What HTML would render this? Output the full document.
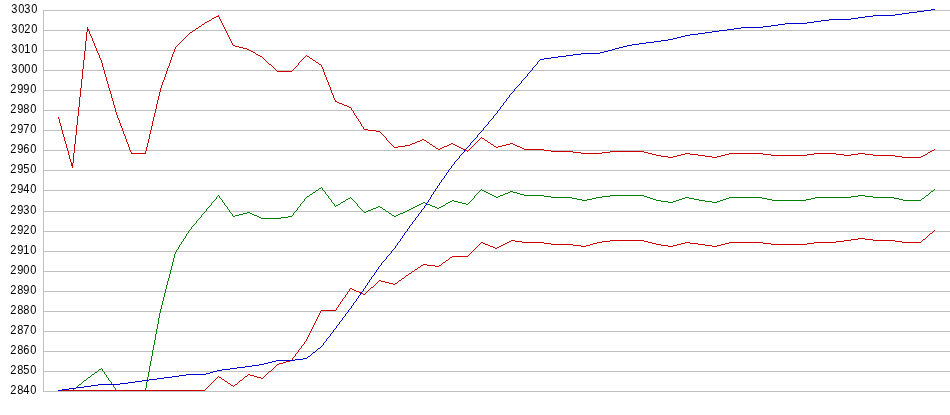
<!DOCTYPE html><html><head><meta charset="utf-8"><title>chart</title><style>html,body{margin:0;padding:0;background:#fff}svg{display:block}text{font-family:"Liberation Sans",Arial,sans-serif;font-size:12px;fill:#000}</style></head><body>
<svg width="950" height="415" viewBox="0 0 950 415">
<rect width="950" height="415" fill="#fff"/>
<g shape-rendering="crispEdges" fill="#c0c0c0">
<rect x="43" y="10" width="907" height="1"/>
<rect x="43" y="30" width="907" height="1"/>
<rect x="43" y="50" width="907" height="1"/>
<rect x="43" y="70" width="907" height="1"/>
<rect x="43" y="90" width="907" height="1"/>
<rect x="43" y="110" width="907" height="1"/>
<rect x="43" y="130" width="907" height="1"/>
<rect x="43" y="150" width="907" height="1"/>
<rect x="43" y="170" width="907" height="1"/>
<rect x="43" y="190" width="907" height="1"/>
<rect x="43" y="211" width="907" height="1"/>
<rect x="43" y="231" width="907" height="1"/>
<rect x="43" y="251" width="907" height="1"/>
<rect x="43" y="271" width="907" height="1"/>
<rect x="43" y="291" width="907" height="1"/>
<rect x="43" y="311" width="907" height="1"/>
<rect x="43" y="331" width="907" height="1"/>
<rect x="43" y="351" width="907" height="1"/>
<rect x="43" y="371" width="907" height="1"/>
<rect x="43" y="391" width="907" height="1"/>
<rect x="43" y="10" width="1" height="382"/>
</g>
<g>
<text transform="translate(11,13) scale(0.92,1)" x="0.29 7.90 14.42 22.03">3030</text>
<text transform="translate(11,33) scale(0.92,1)" x="0.29 7.90 14.42 22.03">3020</text>
<text transform="translate(11,53) scale(0.92,1)" x="0.29 7.90 14.42 22.03">3010</text>
<text transform="translate(11,73) scale(0.92,1)" x="0.29 7.90 14.42 22.03">3000</text>
<text transform="translate(10,93) scale(0.92,1)" x="0.29 7.90 14.42 22.03">2990</text>
<text transform="translate(10,113) scale(0.92,1)" x="0.29 7.90 14.42 22.03">2980</text>
<text transform="translate(10,133) scale(0.92,1)" x="0.29 7.90 14.42 22.03">2970</text>
<text transform="translate(10,153) scale(0.92,1)" x="0.29 7.90 14.42 22.03">2960</text>
<text transform="translate(10,173) scale(0.92,1)" x="0.29 7.90 14.42 22.03">2950</text>
<text transform="translate(10,193) scale(0.92,1)" x="0.29 7.90 14.42 22.03">2940</text>
<text transform="translate(10,214) scale(0.92,1)" x="0.29 7.90 14.42 22.03">2930</text>
<text transform="translate(10,234) scale(0.92,1)" x="0.29 7.90 14.42 22.03">2920</text>
<text transform="translate(10,254) scale(0.92,1)" x="0.29 7.90 14.42 22.03">2910</text>
<text transform="translate(10,274) scale(0.92,1)" x="0.29 7.90 14.42 22.03">2900</text>
<text transform="translate(10,294) scale(0.92,1)" x="0.29 7.90 14.42 22.03">2890</text>
<text transform="translate(10,314) scale(0.92,1)" x="0.29 7.90 14.42 22.03">2880</text>
<text transform="translate(10,334) scale(0.92,1)" x="0.29 7.90 14.42 22.03">2870</text>
<text transform="translate(10,354) scale(0.92,1)" x="0.29 7.90 14.42 22.03">2860</text>
<text transform="translate(10,374) scale(0.92,1)" x="0.29 7.90 14.42 22.03">2850</text>
<text transform="translate(10,394) scale(0.92,1)" x="0.29 7.90 14.42 22.03">2840</text>
</g>
<g shape-rendering="crispEdges" stroke="none">
<path fill="#cc0000" d="M58 117h1v2h-1zM59 119h1v4h-1zM60 123h1v3h-1zM61 126h1v4h-1zM62 130h1v4h-1zM63 134h1v3h-1zM64 137h1v4h-1zM65 141h1v3h-1zM66 144h1v4h-1zM67 148h1v3h-1zM68 151h1v4h-1zM69 155h1v4h-1zM70 159h1v3h-1zM71 162h1v1h-1zM71 163h2v1h-2zM71 164h2v1h-2zM71 165h2v1h-2zM72 166h1v2h-1zM73 153h1v10h-1zM74 144h1v9h-1zM75 135h1v9h-1zM76 125h1v10h-1zM77 116h1v9h-1zM78 107h1v9h-1zM79 97h1v10h-1zM80 88h1v9h-1zM81 79h1v9h-1zM82 69h1v10h-1zM83 60h1v9h-1zM84 51h1v9h-1zM85 41h1v10h-1zM86 32h1v9h-1zM87 27h1v2h-1zM87 29h2v1h-2zM87 30h2v1h-2zM87 31h1v1h-1zM89 31h1v3h-1zM90 34h1v2h-1zM91 36h1v2h-1zM92 38h1v3h-1zM93 41h1v2h-1zM94 43h1v3h-1zM95 46h1v2h-1zM96 48h1v3h-1zM97 51h1v2h-1zM98 53h1v2h-1zM99 55h1v3h-1zM100 58h1v2h-1zM101 60h1v3h-1zM102 63h1v4h-1zM103 67h1v3h-1zM104 70h1v4h-1zM105 74h1v3h-1zM106 77h1v4h-1zM107 81h1v3h-1zM108 84h1v4h-1zM109 88h1v3h-1zM110 91h1v3h-1zM111 94h1v4h-1zM112 98h1v3h-1zM113 101h1v4h-1zM114 105h1v3h-1zM115 108h1v4h-1zM116 112h1v3h-1zM117 115h1v3h-1zM118 118h1v2h-1zM119 120h1v3h-1zM120 123h1v3h-1zM121 126h1v2h-1zM122 128h1v3h-1zM123 131h1v3h-1zM124 134h1v2h-1zM125 136h1v3h-1zM126 139h1v3h-1zM127 142h1v2h-1zM128 144h1v3h-1zM129 147h1v3h-1zM130 150h1v2h-1zM131 152h1v1h-1zM131 153h15v1h-15zM145 151h1v2h-1zM146 147h1v4h-1zM147 143h1v4h-1zM148 139h1v4h-1zM149 134h1v5h-1zM150 130h1v4h-1zM151 126h1v4h-1zM152 121h1v5h-1zM153 117h1v4h-1zM154 113h1v4h-1zM155 109h1v4h-1zM156 104h1v5h-1zM157 100h1v4h-1zM158 96h1v4h-1zM159 92h1v4h-1zM160 88h1v4h-1zM161 85h1v3h-1zM162 82h1v3h-1zM163 80h1v2h-1zM164 77h1v3h-1zM165 74h1v3h-1zM166 71h1v3h-1zM167 68h1v3h-1zM168 66h1v2h-1zM169 63h1v3h-1zM170 60h1v3h-1zM171 57h1v3h-1zM172 54h1v3h-1zM173 52h1v2h-1zM174 49h1v3h-1zM175 47h1v2h-1zM176 46h1v1h-1zM177 45h1v1h-1zM178 44h1v1h-1zM179 43h1v1h-1zM180 42h1v1h-1zM181 41h1v1h-1zM182 40h1v1h-1zM183 39h1v1h-1zM184 38h1v1h-1zM185 37h1v1h-1zM186 36h1v1h-1zM187 35h1v1h-1zM188 34h1v1h-1zM189 33h1v1h-1zM190 32h2v1h-2zM192 31h1v1h-1zM193 30h2v1h-2zM195 29h1v1h-1zM196 28h2v1h-2zM198 27h1v1h-1zM199 26h2v1h-2zM201 25h1v1h-1zM202 24h2v1h-2zM204 23h1v1h-1zM205 22h2v1h-2zM207 21h2v1h-2zM209 20h2v1h-2zM211 19h1v1h-1zM212 18h2v1h-2zM214 17h2v1h-2zM216 16h3v1h-3zM218 15h1v1h-1zM219 17h1v2h-1zM220 19h1v2h-1zM221 21h1v2h-1zM222 23h1v2h-1zM223 25h1v2h-1zM224 27h1v2h-1zM225 29h1v2h-1zM226 31h1v2h-1zM227 33h1v2h-1zM228 35h1v2h-1zM229 37h1v2h-1zM230 39h1v2h-1zM231 41h1v2h-1zM232 43h1v2h-1zM233 45h2v1h-2zM235 46h4v1h-4zM239 47h4v1h-4zM243 48h4v1h-4zM247 49h2v1h-2zM249 50h2v1h-2zM251 51h2v1h-2zM253 52h2v1h-2zM255 53h1v1h-1zM256 54h2v1h-2zM258 55h2v1h-2zM260 56h2v1h-2zM262 57h1v1h-1zM263 58h1v1h-1zM264 59h1v1h-1zM265 60h1v1h-1zM266 61h1v1h-1zM267 62h1v1h-1zM268 63h1v1h-1zM269 64h2v1h-2zM271 65h1v1h-1zM272 66h1v1h-1zM273 67h1v1h-1zM274 68h1v1h-1zM275 69h1v1h-1zM276 70h1v1h-1zM277 71h15v1h-15zM292 70h1v1h-1zM293 69h1v1h-1zM294 68h1v1h-1zM295 67h1v1h-1zM296 66h1v1h-1zM297 65h1v1h-1zM298 63h1v2h-1zM299 62h1v1h-1zM300 61h1v1h-1zM301 60h1v1h-1zM302 59h1v1h-1zM303 58h1v1h-1zM304 57h1v1h-1zM305 56h1v1h-1zM306 55h1v1h-1zM307 56h2v1h-2zM309 57h1v1h-1zM310 58h2v1h-2zM312 59h1v1h-1zM313 60h2v1h-2zM315 61h1v1h-1zM316 62h2v1h-2zM318 63h1v1h-1zM319 64h2v1h-2zM321 65h1v2h-1zM322 67h1v2h-1zM323 69h1v3h-1zM324 72h1v3h-1zM325 75h1v2h-1zM326 77h1v3h-1zM327 80h1v2h-1zM328 82h1v3h-1zM329 85h1v2h-1zM330 87h1v3h-1zM331 90h1v3h-1zM332 93h1v2h-1zM333 95h1v3h-1zM334 98h1v2h-1zM335 100h1v1h-1zM335 101h2v1h-2zM337 102h2v1h-2zM339 103h3v1h-3zM342 104h2v1h-2zM344 105h3v1h-3zM347 106h2v1h-2zM349 107h2v1h-2zM351 108h1v2h-1zM352 110h1v1h-1zM353 111h1v2h-1zM354 113h1v2h-1zM355 115h1v1h-1zM356 116h1v2h-1zM357 118h1v1h-1zM358 119h1v2h-1zM359 121h1v1h-1zM360 122h1v2h-1zM361 124h1v2h-1zM362 126h1v1h-1zM363 127h1v2h-1zM364 129h4v1h-4zM368 130h8v1h-8zM376 131h4v1h-4zM380 132h1v1h-1zM381 133h1v1h-1zM382 134h1v1h-1zM383 135h1v1h-1zM384 136h1v1h-1zM385 137h1v1h-1zM386 138h1v2h-1zM387 140h1v1h-1zM388 141h1v1h-1zM389 142h1v1h-1zM390 143h1v1h-1zM391 144h1v1h-1zM392 145h1v1h-1zM393 146h1v1h-1zM394 147h4v1h-4zM398 146h7v1h-7zM405 145h5v1h-5zM410 144h2v1h-2zM412 143h3v1h-3zM415 142h2v1h-2zM417 141h3v1h-3zM420 140h2v1h-2zM422 139h2v1h-2zM424 140h2v1h-2zM426 141h1v1h-1zM427 142h2v1h-2zM429 143h1v1h-1zM430 144h2v1h-2zM432 145h1v1h-1zM433 146h2v1h-2zM435 147h1v1h-1zM436 148h2v1h-2zM438 149h2v1h-2zM440 148h2v1h-2zM442 147h2v1h-2zM444 146h3v1h-3zM447 145h2v1h-2zM449 144h2v1h-2zM451 143h2v1h-2zM453 144h2v1h-2zM455 145h2v1h-2zM457 146h2v1h-2zM459 147h2v1h-2zM461 148h2v1h-2zM463 149h2v1h-2zM465 150h2v1h-2zM467 151h1v1h-1zM468 150h1v1h-1zM469 149h1v1h-1zM470 148h1v1h-1zM471 147h1v1h-1zM472 146h1v1h-1zM473 145h1v1h-1zM474 144h1v1h-1zM475 143h1v1h-1zM476 142h1v1h-1zM477 141h1v1h-1zM478 140h1v1h-1zM479 139h1v1h-1zM480 138h1v1h-1zM481 137h1v1h-1zM482 138h2v1h-2zM484 139h1v1h-1zM485 140h2v1h-2zM487 141h1v1h-1zM488 142h2v1h-2zM490 143h1v1h-1zM491 144h2v1h-2zM493 145h1v1h-1zM494 146h2v1h-2zM496 147h2v1h-2zM498 146h4v1h-4zM502 145h4v1h-4zM506 144h4v1h-4zM510 143h3v1h-3zM513 144h2v1h-2zM515 145h2v1h-2zM517 146h3v1h-3zM520 147h2v1h-2zM522 148h2v1h-2zM524 149h20v1h-20zM544 150h7v1h-7zM551 151h22v1h-22zM573 152h8v1h-8zM581 153h21v1h-21zM602 152h8v1h-8zM610 151h34v1h-34zM644 152h4v1h-4zM648 153h4v1h-4zM652 154h4v1h-4zM656 155h5v1h-5zM661 156h7v1h-7zM668 157h5v1h-5zM673 156h4v1h-4zM677 155h4v1h-4zM681 154h4v1h-4zM685 153h5v1h-5zM690 154h8v1h-8zM698 155h7v1h-7zM705 156h7v1h-7zM712 157h5v1h-5zM717 156h4v1h-4zM721 155h4v1h-4zM725 154h4v1h-4zM729 153h34v1h-34zM763 154h8v1h-8zM771 155h36v1h-36zM807 154h7v1h-7zM814 153h22v1h-22zM836 154h8v1h-8zM844 155h7v1h-7zM851 154h7v1h-7zM858 153h7v1h-7zM865 154h8v1h-8zM873 155h22v1h-22zM895 156h7v1h-7zM902 157h19v1h-19zM921 156h2v1h-2zM923 155h2v1h-2zM925 154h2v1h-2zM927 153h1v1h-1zM928 152h2v1h-2zM930 151h2v1h-2zM932 150h2v1h-2zM934 149h1v1h-1z"/>
<path fill="#008000" d="M58 390h15v1h-15zM73 389h1v1h-1zM74 388h2v1h-2zM76 387h1v1h-1zM77 386h1v1h-1zM78 385h1v1h-1zM79 384h2v1h-2zM81 383h1v1h-1zM82 382h1v1h-1zM83 381h1v1h-1zM84 380h2v1h-2zM86 379h1v1h-1zM87 378h1v1h-1zM88 377h2v1h-2zM90 376h1v1h-1zM91 375h1v1h-1zM92 374h2v1h-2zM94 373h1v1h-1zM95 372h2v1h-2zM97 371h1v1h-1zM98 370h1v1h-1zM99 369h2v1h-2zM101 368h1v1h-1zM102 369h1v2h-1zM103 371h1v1h-1zM104 372h1v2h-1zM105 374h1v1h-1zM106 375h1v2h-1zM107 377h1v1h-1zM108 378h1v2h-1zM109 380h1v1h-1zM110 381h1v1h-1zM111 382h1v2h-1zM112 384h1v1h-1zM113 385h1v2h-1zM114 387h1v1h-1zM115 388h1v2h-1zM116 390h30v1h-30zM145 388h1v2h-1zM146 382h1v6h-1zM147 377h1v5h-1zM148 372h1v5h-1zM149 366h1v6h-1zM150 361h1v5h-1zM151 356h1v5h-1zM152 350h1v6h-1zM153 345h1v5h-1zM154 340h1v5h-1zM155 334h1v6h-1zM156 329h1v5h-1zM157 324h1v5h-1zM158 318h1v6h-1zM159 313h1v5h-1zM160 309h1v4h-1zM161 305h1v4h-1zM162 301h1v4h-1zM163 297h1v4h-1zM164 293h1v4h-1zM165 289h1v4h-1zM166 285h1v4h-1zM167 281h1v4h-1zM168 278h1v3h-1zM169 274h1v4h-1zM170 270h1v4h-1zM171 266h1v4h-1zM172 262h1v4h-1zM173 258h1v4h-1zM174 254h1v4h-1zM175 252h1v2h-1zM176 250h1v2h-1zM177 249h1v1h-1zM178 247h1v2h-1zM179 245h1v2h-1zM180 244h1v1h-1zM181 242h1v2h-1zM182 241h1v1h-1zM183 239h1v2h-1zM184 238h1v1h-1zM185 236h1v2h-1zM186 234h1v2h-1zM187 233h1v1h-1zM188 231h1v2h-1zM189 230h1v1h-1zM190 229h1v1h-1zM191 227h1v2h-1zM192 226h1v1h-1zM193 225h1v1h-1zM194 224h1v1h-1zM195 223h1v1h-1zM196 221h1v2h-1zM197 220h1v1h-1zM198 219h1v1h-1zM199 218h1v1h-1zM200 217h1v1h-1zM201 215h1v2h-1zM202 214h1v1h-1zM203 213h1v1h-1zM204 212h1v1h-1zM205 211h1v1h-1zM206 209h1v2h-1zM207 208h1v1h-1zM208 207h1v1h-1zM209 206h1v1h-1zM210 205h1v1h-1zM211 203h1v2h-1zM212 202h1v1h-1zM213 201h1v1h-1zM214 200h1v1h-1zM215 199h1v1h-1zM216 197h1v2h-1zM217 196h1v1h-1zM218 195h1v1h-1zM219 196h1v2h-1zM220 198h1v1h-1zM221 199h1v1h-1zM222 200h1v2h-1zM223 202h1v1h-1zM224 203h1v2h-1zM225 205h1v1h-1zM226 206h1v1h-1zM227 207h1v2h-1zM228 209h1v1h-1zM229 210h1v2h-1zM230 212h1v1h-1zM231 213h1v1h-1zM232 214h1v2h-1zM233 216h2v1h-2zM235 215h4v1h-4zM239 214h4v1h-4zM243 213h4v1h-4zM247 212h3v1h-3zM250 213h2v1h-2zM252 214h2v1h-2zM254 215h3v1h-3zM257 216h2v1h-2zM259 217h2v1h-2zM261 218h20v1h-20zM281 217h7v1h-7zM288 216h4v1h-4zM292 215h1v1h-1zM293 213h1v2h-1zM294 212h1v1h-1zM295 211h1v1h-1zM296 210h1v1h-1zM297 208h1v2h-1zM298 207h1v1h-1zM299 206h1v1h-1zM300 204h1v2h-1zM301 203h1v1h-1zM302 202h1v1h-1zM303 201h1v1h-1zM304 199h1v2h-1zM305 198h1v1h-1zM306 197h1v1h-1zM307 196h2v1h-2zM309 195h1v1h-1zM310 194h2v1h-2zM312 193h1v1h-1zM313 192h2v1h-2zM315 191h1v1h-1zM316 190h2v1h-2zM318 189h1v1h-1zM319 188h2v1h-2zM321 187h1v1h-1zM322 188h1v2h-1zM323 190h1v1h-1zM324 191h1v1h-1zM325 192h1v2h-1zM326 194h1v1h-1zM327 195h1v1h-1zM328 196h1v2h-1zM329 198h1v1h-1zM330 199h1v1h-1zM331 200h1v2h-1zM332 202h1v1h-1zM333 203h1v1h-1zM334 204h1v2h-1zM335 206h1v1h-1zM336 205h2v1h-2zM338 204h2v1h-2zM340 203h1v1h-1zM341 202h2v1h-2zM343 201h2v1h-2zM345 200h1v1h-1zM346 199h2v1h-2zM348 198h2v1h-2zM350 197h1v1h-1zM351 198h1v1h-1zM352 199h1v1h-1zM353 200h1v1h-1zM354 201h1v1h-1zM355 202h1v1h-1zM356 203h1v1h-1zM357 204h1v2h-1zM358 206h1v1h-1zM359 207h1v1h-1zM360 208h1v1h-1zM361 209h1v1h-1zM362 210h1v1h-1zM363 211h1v1h-1zM364 212h2v1h-2zM366 211h2v1h-2zM368 210h3v1h-3zM371 209h2v1h-2zM373 208h3v1h-3zM376 207h2v1h-2zM378 206h2v1h-2zM380 207h2v1h-2zM382 208h1v1h-1zM383 209h2v1h-2zM385 210h1v1h-1zM386 211h2v1h-2zM388 212h1v1h-1zM389 213h2v1h-2zM391 214h1v1h-1zM392 215h2v1h-2zM394 216h2v1h-2zM396 215h2v1h-2zM398 214h2v1h-2zM400 213h3v1h-3zM403 212h2v1h-2zM405 211h2v1h-2zM407 210h2v1h-2zM409 209h2v1h-2zM411 208h2v1h-2zM413 207h2v1h-2zM415 206h2v1h-2zM417 205h2v1h-2zM419 204h2v1h-2zM421 203h2v1h-2zM423 202h2v1h-2zM425 203h2v1h-2zM427 204h3v1h-3zM430 205h2v1h-2zM432 206h3v1h-3zM435 207h2v1h-2zM437 208h2v1h-2zM439 207h2v1h-2zM441 206h2v1h-2zM443 205h2v1h-2zM445 204h1v1h-1zM446 203h2v1h-2zM448 202h2v1h-2zM450 201h2v1h-2zM452 200h2v1h-2zM454 201h4v1h-4zM458 202h4v1h-4zM462 203h4v1h-4zM466 204h2v1h-2zM468 203h1v1h-1zM469 202h1v1h-1zM470 201h1v1h-1zM471 200h1v1h-1zM472 199h1v1h-1zM473 198h1v1h-1zM474 196h1v2h-1zM475 195h1v1h-1zM476 194h1v1h-1zM477 193h1v1h-1zM478 192h1v1h-1zM479 191h1v1h-1zM480 190h1v1h-1zM481 189h1v1h-1zM482 190h2v1h-2zM484 191h2v1h-2zM486 192h2v1h-2zM488 193h2v1h-2zM490 194h2v1h-2zM492 195h2v1h-2zM494 196h2v1h-2zM496 197h2v1h-2zM498 196h2v1h-2zM500 195h3v1h-3zM503 194h2v1h-2zM505 193h3v1h-3zM508 192h2v1h-2zM510 191h3v1h-3zM513 192h4v1h-4zM517 193h3v1h-3zM520 194h4v1h-4zM524 195h20v1h-20zM544 196h7v1h-7zM551 197h21v1h-21zM572 198h5v1h-5zM577 199h5v1h-5zM582 200h5v1h-5zM587 199h5v1h-5zM592 198h4v1h-4zM596 197h6v1h-6zM602 196h8v1h-8zM610 195h34v1h-34zM644 196h3v1h-3zM647 197h3v1h-3zM650 198h3v1h-3zM653 199h3v1h-3zM656 200h5v1h-5zM661 201h7v1h-7zM668 202h5v1h-5zM673 201h3v1h-3zM676 200h3v1h-3zM679 199h3v1h-3zM682 198h3v1h-3zM685 197h4v1h-4zM689 198h5v1h-5zM694 199h5v1h-5zM699 200h6v1h-6zM705 201h7v1h-7zM712 202h5v1h-5zM717 201h3v1h-3zM720 200h3v1h-3zM723 199h3v1h-3zM726 198h3v1h-3zM729 197h33v1h-33zM762 198h5v1h-5zM767 199h5v1h-5zM772 200h34v1h-34zM806 199h5v1h-5zM811 198h4v1h-4zM815 197h36v1h-36zM851 196h7v1h-7zM858 195h7v1h-7zM865 196h8v1h-8zM873 197h21v1h-21zM894 198h5v1h-5zM899 199h4v1h-4zM903 200h18v1h-18zM921 199h1v1h-1zM922 198h2v1h-2zM924 197h1v1h-1zM925 196h1v1h-1zM926 195h2v1h-2zM928 194h1v1h-1zM929 193h1v1h-1zM930 192h1v1h-1zM931 191h2v1h-2zM933 190h1v1h-1zM934 189h1v1h-1z"/>
<path fill="#cc0000" d="M58 390h147v1h-147zM205 389h1v1h-1zM206 388h1v1h-1zM207 387h1v1h-1zM208 386h1v1h-1zM209 385h1v1h-1zM210 384h1v1h-1zM211 383h1v1h-1zM212 382h1v1h-1zM213 381h1v1h-1zM214 380h1v1h-1zM215 379h1v1h-1zM216 378h1v1h-1zM217 377h1v1h-1zM218 376h1v1h-1zM219 377h2v1h-2zM221 378h1v1h-1zM222 379h2v1h-2zM224 380h1v1h-1zM225 381h2v1h-2zM227 382h1v1h-1zM228 383h2v1h-2zM230 384h1v1h-1zM231 385h2v1h-2zM233 386h1v1h-1zM234 385h1v1h-1zM235 384h2v1h-2zM237 383h1v1h-1zM238 382h1v1h-1zM239 381h1v1h-1zM240 380h2v1h-2zM242 379h1v1h-1zM243 378h1v1h-1zM244 377h1v1h-1zM245 376h2v1h-2zM247 375h1v1h-1zM248 374h2v1h-2zM250 375h4v1h-4zM254 376h3v1h-3zM257 377h4v1h-4zM261 378h2v1h-2zM263 377h1v1h-1zM264 376h1v1h-1zM265 375h1v1h-1zM266 374h1v1h-1zM267 373h1v1h-1zM268 372h1v1h-1zM269 371h2v1h-2zM271 370h1v1h-1zM272 369h1v1h-1zM273 368h1v1h-1zM274 367h1v1h-1zM275 366h1v1h-1zM276 365h1v1h-1zM277 364h2v1h-2zM279 363h4v1h-4zM283 362h3v1h-3zM286 361h4v1h-4zM290 360h2v1h-2zM292 358h1v2h-1zM293 357h1v1h-1zM294 356h1v1h-1zM295 354h1v2h-1zM296 353h1v1h-1zM297 352h1v1h-1zM298 350h1v2h-1zM299 349h1v1h-1zM300 348h1v1h-1zM301 346h1v2h-1zM302 345h1v1h-1zM303 344h1v1h-1zM304 342h1v2h-1zM305 341h1v1h-1zM306 339h1v2h-1zM307 337h1v2h-1zM308 335h1v2h-1zM309 333h1v2h-1zM310 331h1v2h-1zM311 329h1v2h-1zM312 327h1v2h-1zM313 325h1v2h-1zM314 323h1v2h-1zM315 321h1v2h-1zM316 319h1v2h-1zM317 317h1v2h-1zM318 315h1v2h-1zM319 313h1v2h-1zM320 311h1v2h-1zM321 310h15v1h-15zM336 308h1v2h-1zM337 307h1v1h-1zM338 305h1v2h-1zM339 304h1v1h-1zM340 302h1v2h-1zM341 301h1v1h-1zM342 299h1v2h-1zM343 298h1v1h-1zM344 297h1v1h-1zM345 295h1v2h-1zM346 294h1v1h-1zM347 292h1v2h-1zM348 291h1v1h-1zM349 289h1v2h-1zM350 288h2v1h-2zM352 289h2v1h-2zM354 290h2v1h-2zM356 291h3v1h-3zM359 292h2v1h-2zM361 293h2v1h-2zM363 294h2v1h-2zM365 293h1v1h-1zM366 292h1v1h-1zM367 291h1v1h-1zM368 290h1v1h-1zM369 289h1v1h-1zM370 288h1v1h-1zM371 287h2v1h-2zM373 286h1v1h-1zM374 285h1v1h-1zM375 284h1v1h-1zM376 283h1v1h-1zM377 282h1v1h-1zM378 281h1v1h-1zM379 280h2v1h-2zM381 281h4v1h-4zM385 282h4v1h-4zM389 283h4v1h-4zM393 284h2v1h-2zM395 283h2v1h-2zM397 282h1v1h-1zM398 281h1v1h-1zM399 280h2v1h-2zM401 279h1v1h-1zM402 278h2v1h-2zM404 277h1v1h-1zM405 276h1v1h-1zM406 275h2v1h-2zM408 274h1v1h-1zM409 273h2v1h-2zM411 272h1v1h-1zM412 271h2v1h-2zM414 270h1v1h-1zM415 269h2v1h-2zM417 268h1v1h-1zM418 267h2v1h-2zM420 266h1v1h-1zM421 265h2v1h-2zM423 264h4v1h-4zM427 265h8v1h-8zM435 266h4v1h-4zM439 265h2v1h-2zM441 264h1v1h-1zM442 263h1v1h-1zM443 262h2v1h-2zM445 261h1v1h-1zM446 260h2v1h-2zM448 259h1v1h-1zM449 258h1v1h-1zM450 257h2v1h-2zM452 256h16v1h-16zM468 255h1v1h-1zM469 254h1v1h-1zM470 253h1v1h-1zM471 252h1v1h-1zM472 251h1v1h-1zM473 250h1v1h-1zM474 249h1v1h-1zM475 248h1v1h-1zM476 247h1v1h-1zM477 246h1v1h-1zM478 245h1v1h-1zM479 244h1v1h-1zM480 243h1v1h-1zM481 242h2v1h-2zM483 243h2v1h-2zM485 244h3v1h-3zM488 245h2v1h-2zM490 246h3v1h-3zM493 247h2v1h-2zM495 248h2v1h-2zM497 247h2v1h-2zM499 246h2v1h-2zM501 245h2v1h-2zM503 244h2v1h-2zM505 243h2v1h-2zM507 242h2v1h-2zM509 241h2v1h-2zM511 240h4v1h-4zM515 241h7v1h-7zM522 242h22v1h-22zM544 243h7v1h-7zM551 244h22v1h-22zM573 245h8v1h-8zM581 246h5v1h-5zM586 245h4v1h-4zM590 244h3v1h-3zM593 243h4v1h-4zM597 242h5v1h-5zM602 241h8v1h-8zM610 240h34v1h-34zM644 241h4v1h-4zM648 242h4v1h-4zM652 243h4v1h-4zM656 244h5v1h-5zM661 245h7v1h-7zM668 246h5v1h-5zM673 245h4v1h-4zM677 244h4v1h-4zM681 243h4v1h-4zM685 242h5v1h-5zM690 243h8v1h-8zM698 244h7v1h-7zM705 245h7v1h-7zM712 246h5v1h-5zM717 245h4v1h-4zM721 244h4v1h-4zM725 243h4v1h-4zM729 242h34v1h-34zM763 243h8v1h-8zM771 244h36v1h-36zM807 243h7v1h-7zM814 242h22v1h-22zM836 241h8v1h-8zM844 240h7v1h-7zM851 239h7v1h-7zM858 238h7v1h-7zM865 239h8v1h-8zM873 240h22v1h-22zM895 241h7v1h-7zM902 242h19v1h-19zM921 241h1v1h-1zM922 240h1v1h-1zM923 239h2v1h-2zM925 238h1v1h-1zM926 237h1v1h-1zM927 236h1v1h-1zM928 235h1v1h-1zM929 234h1v1h-1zM930 233h2v1h-2zM932 232h1v1h-1zM933 231h1v1h-1zM934 230h1v1h-1z"/>
<path fill="#0000cc" d="M58 390h4v1h-4zM62 389h7v1h-7zM69 388h7v1h-7zM76 387h8v1h-8zM84 386h7v1h-7zM91 385h7v1h-7zM98 384h22v1h-22zM120 383h8v1h-8zM128 382h7v1h-7zM135 381h7v1h-7zM142 380h7v1h-7zM149 379h8v1h-8zM157 378h7v1h-7zM164 377h8v1h-8zM172 376h7v1h-7zM179 375h7v1h-7zM186 374h20v1h-20zM206 373h4v1h-4zM210 372h3v1h-3zM213 371h4v1h-4zM217 370h5v1h-5zM222 369h8v1h-8zM230 368h7v1h-7zM237 367h8v1h-8zM245 366h7v1h-7zM252 365h7v1h-7zM259 364h5v1h-5zM264 363h4v1h-4zM268 362h4v1h-4zM272 361h4v1h-4zM276 360h19v1h-19zM295 359h8v1h-8zM303 358h4v1h-4zM307 357h1v1h-1zM308 356h2v1h-2zM310 355h1v1h-1zM311 354h1v1h-1zM312 353h1v1h-1zM313 352h2v1h-2zM315 351h1v1h-1zM316 350h1v1h-1zM317 349h1v1h-1zM318 348h2v1h-2zM320 347h1v1h-1zM321 346h1v1h-1zM322 345h1v1h-1zM323 343h1v2h-1zM324 342h1v1h-1zM325 341h1v1h-1zM326 339h1v2h-1zM327 338h1v1h-1zM328 337h1v1h-1zM329 336h1v1h-1zM330 334h1v2h-1zM331 333h1v1h-1zM332 332h1v1h-1zM333 330h1v2h-1zM334 329h1v1h-1zM335 328h1v1h-1zM336 326h1v2h-1zM337 325h1v1h-1zM338 324h1v1h-1zM339 322h1v2h-1zM340 321h1v1h-1zM341 320h1v1h-1zM342 318h1v2h-1zM343 317h1v1h-1zM344 316h1v1h-1zM345 314h1v2h-1zM346 313h1v1h-1zM347 312h1v1h-1zM348 310h1v2h-1zM349 309h1v1h-1zM350 308h1v1h-1zM351 306h1v2h-1zM352 305h1v1h-1zM353 303h1v2h-1zM354 302h1v1h-1zM355 301h1v1h-1zM356 299h1v2h-1zM357 298h1v1h-1zM358 296h1v2h-1zM359 295h1v1h-1zM360 293h1v2h-1zM361 292h1v1h-1zM362 291h1v1h-1zM363 289h1v2h-1zM364 288h1v1h-1zM365 286h1v2h-1zM366 285h1v1h-1zM367 283h1v2h-1zM368 282h1v1h-1zM369 280h1v2h-1zM370 279h1v1h-1zM371 277h1v2h-1zM372 276h1v1h-1zM373 275h1v1h-1zM374 273h1v2h-1zM375 272h1v1h-1zM376 270h1v2h-1zM377 269h1v1h-1zM378 267h1v2h-1zM379 266h1v1h-1zM380 265h1v1h-1zM381 263h1v2h-1zM382 262h1v1h-1zM383 261h1v1h-1zM384 260h1v1h-1zM385 259h1v1h-1zM386 257h1v2h-1zM387 256h1v1h-1zM388 255h1v1h-1zM389 254h1v1h-1zM390 253h1v1h-1zM391 251h1v2h-1zM392 250h1v1h-1zM393 249h1v1h-1zM394 248h1v1h-1zM395 246h1v2h-1zM396 245h1v1h-1zM397 243h1v2h-1zM398 242h1v1h-1zM399 241h1v1h-1zM400 239h1v2h-1zM401 238h1v1h-1zM402 236h1v2h-1zM403 235h1v1h-1zM404 233h1v2h-1zM405 232h1v1h-1zM406 231h1v1h-1zM407 229h1v2h-1zM408 228h1v1h-1zM409 226h1v2h-1zM410 225h1v1h-1zM411 224h1v1h-1zM412 222h1v2h-1zM413 221h1v1h-1zM414 220h1v1h-1zM415 218h1v2h-1zM416 217h1v1h-1zM417 216h1v1h-1zM418 214h1v2h-1zM419 213h1v1h-1zM420 212h1v1h-1zM421 210h1v2h-1zM422 209h1v1h-1zM423 208h1v1h-1zM424 206h1v2h-1zM425 205h1v1h-1zM426 203h1v2h-1zM427 202h1v1h-1zM428 200h1v2h-1zM429 199h1v1h-1zM430 197h1v2h-1zM431 195h1v2h-1zM432 194h1v1h-1zM433 192h1v2h-1zM434 191h1v1h-1zM435 189h1v2h-1zM436 188h1v1h-1zM437 186h1v2h-1zM438 185h1v1h-1zM439 183h1v2h-1zM440 182h1v1h-1zM441 180h1v2h-1zM442 179h1v1h-1zM443 178h1v1h-1zM444 176h1v2h-1zM445 175h1v1h-1zM446 173h1v2h-1zM447 172h1v1h-1zM448 170h1v2h-1zM449 169h1v1h-1zM450 168h1v1h-1zM451 166h1v2h-1zM452 165h1v1h-1zM453 164h1v1h-1zM454 162h1v2h-1zM455 161h1v1h-1zM456 160h1v1h-1zM457 159h1v1h-1zM458 158h1v1h-1zM459 156h1v2h-1zM460 155h1v1h-1zM461 154h1v1h-1zM462 153h1v1h-1zM463 152h1v1h-1zM464 150h1v2h-1zM465 149h1v1h-1zM466 148h1v1h-1zM467 147h1v1h-1zM468 146h1v1h-1zM469 145h1v1h-1zM470 143h1v2h-1zM471 142h1v1h-1zM472 141h1v1h-1zM473 140h1v1h-1zM474 139h1v1h-1zM475 138h1v1h-1zM476 137h1v1h-1zM477 135h1v2h-1zM478 134h1v1h-1zM479 133h1v1h-1zM480 132h1v1h-1zM481 131h1v1h-1zM482 130h1v1h-1zM483 128h1v2h-1zM484 127h1v1h-1zM485 126h1v1h-1zM486 125h1v1h-1zM487 124h1v1h-1zM488 122h1v2h-1zM489 121h1v1h-1zM490 120h1v1h-1zM491 119h1v1h-1zM492 118h1v1h-1zM493 116h1v2h-1zM494 115h1v1h-1zM495 114h1v1h-1zM496 113h1v1h-1zM497 111h1v2h-1zM498 110h1v1h-1zM499 109h1v1h-1zM500 107h1v2h-1zM501 106h1v1h-1zM502 105h1v1h-1zM503 103h1v2h-1zM504 102h1v1h-1zM505 101h1v1h-1zM506 99h1v2h-1zM507 98h1v1h-1zM508 97h1v1h-1zM509 95h1v2h-1zM510 94h1v1h-1zM511 93h1v1h-1zM512 92h1v1h-1zM513 91h1v1h-1zM514 89h1v2h-1zM515 88h1v1h-1zM516 87h1v1h-1zM517 86h1v1h-1zM518 85h1v1h-1zM519 84h1v1h-1zM520 83h1v1h-1zM521 81h1v2h-1zM522 80h1v1h-1zM523 79h1v1h-1zM524 78h1v1h-1zM525 77h1v1h-1zM526 76h1v1h-1zM527 74h1v2h-1zM528 73h1v1h-1zM529 72h1v1h-1zM530 71h1v1h-1zM531 70h1v1h-1zM532 68h1v2h-1zM533 67h1v1h-1zM534 66h1v1h-1zM535 65h1v1h-1zM536 64h1v1h-1zM537 62h1v2h-1zM538 61h1v1h-1zM539 60h1v1h-1zM540 59h4v1h-4zM544 58h7v1h-7zM551 57h7v1h-7zM558 56h8v1h-8zM566 55h7v1h-7zM573 54h8v1h-8zM581 53h19v1h-19zM600 52h4v1h-4zM604 51h4v1h-4zM608 50h4v1h-4zM612 49h3v1h-3zM615 48h4v1h-4zM619 47h4v1h-4zM623 46h4v1h-4zM627 45h5v1h-5zM632 44h7v1h-7zM639 43h7v1h-7zM646 42h8v1h-8zM654 41h7v1h-7zM661 40h7v1h-7zM668 39h5v1h-5zM673 38h4v1h-4zM677 37h4v1h-4zM681 36h4v1h-4zM685 35h5v1h-5zM690 34h8v1h-8zM698 33h7v1h-7zM705 32h7v1h-7zM712 31h7v1h-7zM719 30h8v1h-8zM727 29h7v1h-7zM734 28h7v1h-7zM741 27h22v1h-22zM763 26h8v1h-8zM771 25h7v1h-7zM778 24h7v1h-7zM785 23h22v1h-22zM807 22h7v1h-7zM814 21h7v1h-7zM821 20h8v1h-8zM829 19h22v1h-22zM851 18h7v1h-7zM858 17h7v1h-7zM865 16h8v1h-8zM873 15h22v1h-22zM895 14h7v1h-7zM902 13h7v1h-7zM909 12h8v1h-8zM917 11h7v1h-7zM924 10h7v1h-7zM931 9h4v1h-4z"/>
</g></svg></body></html>
